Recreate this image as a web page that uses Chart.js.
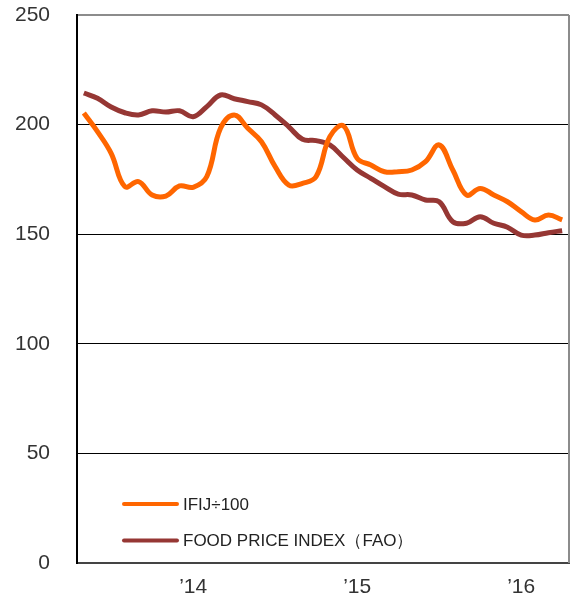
<!DOCTYPE html>
<html>
<head>
<meta charset="utf-8">
<script src="https://cdn.jsdelivr.net/npm/chart.js@4"></script>
<style>
	body { margin: 0; background: #fff; }
	#wrap { width: 574px; height: 600px; }
</style>
</head>
<body>
<div id="wrap"><canvas id="chart" width="574" height="600"></canvas></div>
<script>
const months = [
	'2013-05', '2013-06', '2013-07', '2013-08', '2013-09', '2013-10', '2013-11', '2013-12',
	'2014-01', '2014-02', '2014-03', '2014-04', '2014-05', '2014-06', '2014-07', '2014-08',
	'2014-09', '2014-10', '2014-11', '2014-12', '2015-01', '2015-02', '2015-03', '2015-04',
	'2015-05', '2015-06', '2015-07', '2015-08', '2015-09', '2015-10', '2015-11', '2015-12',
	'2016-01', '2016-02', '2016-03', '2016-04'
];

const yearTickMonths = ['2014-01', '2015-01', '2016-01'];
const yearTickLabels = ['\u201914', '\u201915', '\u201916'];

// IFIJ / 100
const ifij = [
	205.3, 196.8, 186.9, 171.7, 174.0, 167.9, 167.4, 172.0,
	171.4, 176.3, 198.3, 204.4, 198.3, 192.2, 180.8, 172.4,
	173.2, 176.3, 194.5, 199.4, 184.6, 181.6, 178.5, 178.5,
	179.3, 183.1, 190.7, 179.3, 167.9, 170.9, 167.9, 164.8,
	160.3, 156.5, 158.8, 156.5
];

// FAO food price index
const fao = [
	214.4, 212.0, 208.0, 205.4, 204.4, 206.3, 205.7, 206.3,
	203.6, 208.2, 213.5, 211.8, 210.5, 209.0, 204.4, 199.0,
	193.3, 192.7, 190.7, 185.0, 179.3, 175.5, 171.7, 168.3,
	167.9, 165.6, 164.8, 155.7, 155.0, 158.0, 155.0, 153.2,
	149.6, 149.6, 150.7, 151.6
];

const seriesNames = ['IFIJ\u00f7100', 'FOOD PRICE INDEX\uff08FAO\uff09'];
const seriesColors = ['rgb(255, 102, 0)', 'rgb(150, 55, 52)'];

const fontFamily = "'Liberation Sans', Arial, sans-serif";

// legend drawn inside the plot, bottom left
const innerLegend = {
	id: 'innerLegend',
	afterDraw(chart) {
		const { ctx, chartArea } = chart;
		ctx.save();
		// right frame
		ctx.strokeStyle = '#8c8c8c';
		ctx.lineWidth = 2;
		ctx.beginPath();
		ctx.moveTo(chartArea.right, chartArea.top);
		ctx.lineTo(chartArea.right, chartArea.bottom);
		ctx.stroke();

		ctx.font = '17px ' + fontFamily;
		ctx.textBaseline = 'middle';
		ctx.fillStyle = '#222';
		const rows = [504, 540.5];
		chart.data.datasets.forEach((ds, i) => {
			const y = rows[i];
			ctx.strokeStyle = ds.borderColor;
			ctx.lineWidth = 4;
			ctx.lineCap = 'round';
			ctx.beginPath();
			ctx.moveTo(chartArea.left + 47, y);
			ctx.lineTo(chartArea.left + 100, y);
			ctx.stroke();
			ctx.fillText(ds.label, chartArea.left + 106, y + 1);
		});
		ctx.restore();
	}
};

function createChart() {
	const ctx = document.getElementById('chart').getContext('2d');
	new Chart(ctx, {
		type: 'line',
		data: {
			labels: months,
			datasets: [
				{
					label: seriesNames[0],
					data: ifij,
					borderColor: seriesColors[0],
					borderWidth: 5,
					pointRadius: 0,
					tension: 0.4,
					fill: false
				},
				{
					label: seriesNames[1],
					data: fao,
					borderColor: seriesColors[1],
					borderWidth: 5,
					pointRadius: 0,
					tension: 0.4,
					fill: false
				}
			]
		},
		options: {
			responsive: false,
			animation: false,
			layout: { padding: { top: 15, right: 5, left: 0, bottom: 0 } },
			plugins: {
				legend: { display: false },
				tooltip: { enabled: false }
			},
			scales: {
				x: {
					offset: true,
					grid: { display: false, drawTicks: false },
					border: { display: true, color: '#444', width: 2 },
					afterFit: scale => {
						scale.height = 37;
						scale.paddingLeft = 0;
						scale.paddingRight = 0;
					},
					ticks: {
						autoSkip: false,
						maxRotation: 0,
						padding: 12,
						color: '#333',
						font: { family: fontFamily, size: 21 },
						callback: function (value) {
							const k = yearTickMonths.indexOf(this.getLabelForValue(value));
							return k >= 0 ? yearTickLabels[k] : '';
						}
					}
				},
				y: {
					min: 0,
					max: 250,
					afterFit: scale => {
						scale.width = 77;
						scale.paddingTop = 0;
						scale.paddingBottom = 0;
					},
					grid: {
						drawTicks: false,
						color: c => c.tick.value === 250 ? '#8c8c8c' : (c.tick.value === 0 ? 'rgba(0,0,0,0)' : '#000'),
						lineWidth: c => c.tick.value === 250 ? 2 : 1
					},
					border: { display: true, color: '#000', width: 2 },
					ticks: {
						stepSize: 50,
						padding: 27,
						color: '#333',
						font: { family: fontFamily, size: 21 }
					}
				}
			}
		},
		plugins: [innerLegend]
	});
}

document.addEventListener('DOMContentLoaded', createChart);
</script>
</body>
</html>
